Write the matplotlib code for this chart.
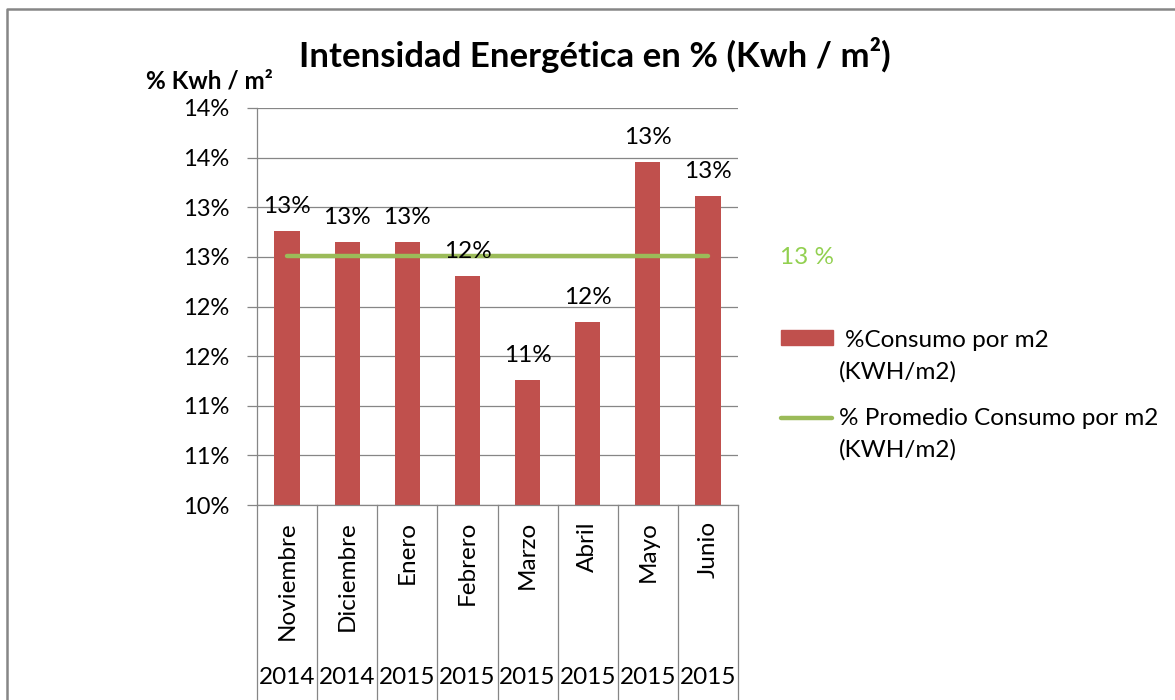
import matplotlib
matplotlib.use("Agg")
import matplotlib.pyplot as plt
from matplotlib.lines import Line2D
from matplotlib.patches import Rectangle

plt.rcParams['font.family'] = ['Lato', 'DejaVu Sans']

# ---- data ----
meses = ["Noviembre", "Diciembre", "Enero", "Febrero", "Marzo", "Abril", "Mayo", "Junio"]
anios = ["2014", "2014", "2015", "2015", "2015", "2015", "2015", "2015"]
consumo = [12.76, 12.65, 12.65, 12.31, 11.26, 11.84, 13.46, 13.11]
promedio = [12.51, 12.51, 12.51, 12.51, 12.51, 12.51, 12.51, 12.51]
y_ticks = [10, 10.5, 11, 11.5, 12, 12.5, 13, 13.5, 14]
y_tick_labels = ["10%", "11%", "11%", "12%", "12%", "13%", "13%", "14%", "14%"]
etiqueta_promedio = "13 %"

W, H = 1175, 700
BAR = "#C0504D"
GREEN = "#9BBB59"
GRID = "#868686"
FS = 17.5

fig = plt.figure(figsize=(W / 100, H / 100), dpi=100)

def fx(px):
    return px / W

def fy(py):
    return 1 - py / H

ax_l, ax_r, ax_t, ax_b = 257, 738, 108, 505
ax = fig.add_axes([fx(ax_l), fy(ax_b), fx(ax_r - ax_l), (ax_b - ax_t) / H])

x = list(range(len(meses)))
ax.bar(x, consumo, width=0.42, color=BAR, zorder=2)
ax.plot(x, promedio, color=GREEN, lw=3.2, solid_capstyle='round', zorder=3)

ax.set_xlim(-0.5, len(meses) - 0.5)
ax.set_ylim(y_ticks[0], y_ticks[-1])
ax.set_yticks(y_ticks)
ax.set_yticklabels(y_tick_labels, fontsize=17)
ax.set_xticks([])
ax.yaxis.grid(True, color=GRID, lw=0.9, zorder=0)
ax.set_axisbelow(True)
ax.tick_params(axis='y', length=7, width=0.9, color=GRID, pad=13, direction='out')
for s in ['top', 'right']:
    ax.spines[s].set_visible(False)
for s in ['left', 'bottom']:
    ax.spines[s].set_color(GRID)
    ax.spines[s].set_linewidth(0.9)

# data labels
for xi, v in zip(x, consumo):
    ax.annotate(f"{int(v + 0.5)}%", (xi, v), xytext=(0, 13), textcoords='offset points',
                ha='center', va='baseline', fontsize=FS, zorder=4)

# category axis (two-level)
axh = ax_b - ax_t
trans = ax.get_xaxis_transform()
for i in range(len(meses) + 1):
    ax.add_line(Line2D([i - 0.5, i - 0.5], [0, -(H - ax_b) / axh], transform=trans,
                       color=GRID, lw=0.9, clip_on=False))
for xi, m, a in zip(x, meses, anios):
    ax.text(xi, -(521 - ax_b) / axh, m, transform=trans, rotation=90, ha='center', va='top',
            fontsize=FS)
    ax.text(xi, -(678 - ax_b) / axh, a, transform=trans, ha='center', va='center', fontsize=FS)

# title and axis label
fig.text(fx(595), fy(55), "Intensidad Energética en % (Kwh / m²)", ha='center', va='center',
         fontsize=25, fontweight='bold')
fig.text(fx(209), fy(81), "% Kwh / m²", ha='center', va='center', fontsize=17.5, fontweight='bold')

# average label
fig.text(fx(780), fy(257), etiqueta_promedio, ha='left', va='center', fontsize=FS, color="#92D050")

# legend
fig.patches.append(Rectangle((fx(781), fy(345)), fx(833 - 781), (345 - 330) / H,
                             transform=fig.transFigure, color=BAR))
fig.text(fx(845), fy(340), "%Consumo por m2", ha='left', va='center', fontsize=FS)
fig.text(fx(839), fy(372), "(KWH/m2)", ha='left', va='center', fontsize=FS)
fig.lines.append(Line2D([fx(781), fx(832)], [fy(418), fy(418)], transform=fig.transFigure,
                        color=GREEN, lw=3.2, solid_capstyle='round'))
fig.text(fx(839), fy(418), "% Promedio Consumo por m2", ha='left', va='center', fontsize=FS)
fig.text(fx(839), fy(450), "(KWH/m2)", ha='left', va='center', fontsize=FS)

# outer border (clipped at right/bottom)
fig.lines.append(Line2D([fx(7), fx(7), fx(W + 5)], [fy(H + 5), fy(8.5), fy(8.5)],
                        transform=fig.transFigure, color=GRID, lw=1.8))

fig.savefig("out.png", dpi=100)
